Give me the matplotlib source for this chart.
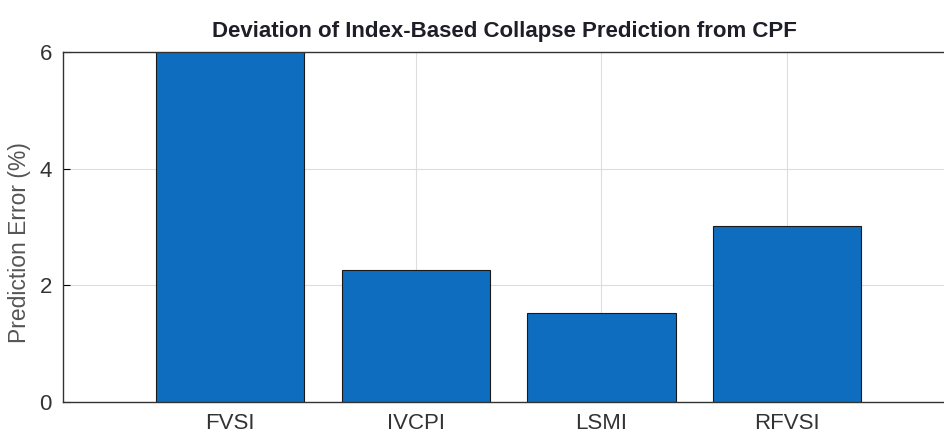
import matplotlib.pyplot as plt

methods = ["FVSI", "IVCPI", "LSMI", "RFVSI"]
errors = [6.4, 2.27, 1.52, 3.02]
yticks = [0, 2, 4, 6]

font = "Liberation Sans"

fig = plt.figure(figsize=(9.45, 4.47), dpi=100)
ax = fig.add_axes([0.0667, 0.1007, 0.943, 0.783])
x = list(range(1, len(methods) + 1))
ax.bar(x, errors, width=0.8, color="#0F6DBF", edgecolor="#1a1a1a", linewidth=0.8, zorder=2)
ax.set_xlim(0.1, 4.9)
ax.set_ylim(0, 6)
ax.set_xticks(x)
ax.set_xticklabels(methods, fontfamily=font, fontsize=16, color="#333333")
ax.set_yticks(yticks)
ax.set_yticklabels([str(v) for v in yticks], fontfamily=font, fontsize=16, color="#333333")
ax.tick_params(direction="in", length=5, width=0.8, pad=8)
ax.grid(True, color="#dddddd", linewidth=0.8, zorder=0)
ax.set_axisbelow(True)
for s in ["left", "bottom", "top"]:
    ax.spines[s].set_color("#333333")
    ax.spines[s].set_linewidth(1.0)
ax.spines["right"].set_visible(False)
ax.set_ylabel("Prediction Error (%)", fontsize=16.5, color="#555555", family=font)
ax.yaxis.set_label_coords(-0.036, 0.455)
fig.text(0.534, 0.93, "Deviation of Index-Based Collapse Prediction from CPF",
         ha="center", va="center", fontsize=16, fontweight="bold", family=font, color="#1e1e28")
fig.savefig("out.png", dpi=100)
